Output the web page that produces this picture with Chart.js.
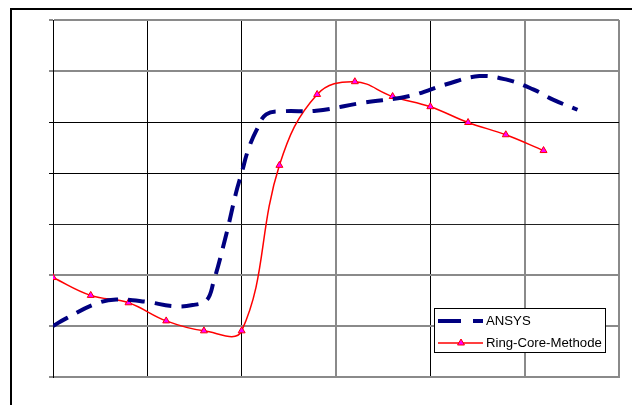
<!DOCTYPE html>
<html><head><meta charset="utf-8">
<script src="https://cdn.jsdelivr.net/npm/chart.js@4"></script>
<style>html,body{margin:0;padding:0;background:#fff}canvas{display:block}</style>
</head><body>
<canvas id="c" width="632" height="405"></canvas>
<script>
// Series names
const seriesNames = ['ANSYS', 'Ring-Core-Methode'];
// ANSYS (dashed, smooth)
const ansysX = [0, 0.14, 0.46, 0.67, 0.99, 1.27, 1.48, 1.63, 1.70, 1.84, 1.94, 2.0, 2.07, 2.16, 2.26, 2.44, 2.79, 3.29, 3.78, 4.17, 4.52, 4.81, 5.09, 5.30, 5.56];
const ansysY = [1.0, 1.15, 1.44, 1.52, 1.475, 1.39, 1.41, 1.51, 1.85, 2.82, 3.61, 4.0, 4.46, 4.85, 5.15, 5.21, 5.22, 5.38, 5.51, 5.74, 5.90, 5.83, 5.64, 5.44, 5.24];
// Ring-Core-Methode (solid, triangle markers)
const rcmX = [0, 0.4, 0.8, 1.2, 1.6, 2.0, 2.4, 2.8, 3.2, 3.6, 4.0, 4.4, 4.8, 5.2];
const rcmY = [1.95, 1.60, 1.455, 1.10, 0.905, 0.905, 4.15, 5.54, 5.79, 5.50, 5.30, 4.99, 4.75, 4.44];
// Axis ranges (no tick labels shown in the reference)
const xRange = [0, 6];
const yRange = [0, 7];

const toPts = (xs, ys) => xs.map((x, i) => ({x, y: ys[i]}));

const xGridColors = ['#000', '#000', '#000', '#8a8a8a', '#000', '#8a8a8a', '#8a8a8a'];
const xGridWidths = [1, 1, 1, 2, 1, 2, 2];
const yGridColors = ['#8a8a8a', '#8a8a8a', '#8a8a8a', '#222', '#000', '#000', '#8a8a8a', '#8a8a8a'];
const yGridWidths = [2, 2, 2, 1, 1, 1, 2, 2];

const bgPlugin = {
  id: 'bg',
  beforeDraw(chart) {
    const ctx = chart.ctx;
    ctx.save();
    ctx.fillStyle = '#fff';
    ctx.fillRect(0, 0, chart.width, chart.height);
    ctx.restore();
  },
  afterDraw(chart) {
    const ctx = chart.ctx;
    ctx.save();
    ctx.strokeStyle = '#000';
    ctx.lineWidth = 2;
    ctx.strokeRect(11, 9, 1000, 1000);
    ctx.restore();
  }
};

const legendPlugin = {
  id: 'boxLegend',
  afterDraw(chart) {
    const ctx = chart.ctx;
    const ds = chart.data.datasets;
    ctx.save();
    ctx.fillStyle = '#fff';
    ctx.fillRect(434.5, 308.5, 171, 44);
    ctx.strokeStyle = '#000';
    ctx.lineWidth = 1;
    ctx.strokeRect(434.5, 308.5, 171, 44);
    ctx.font = '13.2px "Liberation Sans", Arial, sans-serif';
    ctx.textBaseline = 'middle';
    ctx.fillStyle = '#000';
    const rows = [321, 343];
    ds.forEach((d, i) => {
      const y = rows[i];
      ctx.save();
      ctx.strokeStyle = d.borderColor;
      ctx.lineWidth = d.borderWidth;
      ctx.setLineDash(d.borderDash ? [23, 12] : []);
      ctx.beginPath();
      ctx.moveTo(438, y);
      ctx.lineTo(483, y);
      ctx.stroke();
      ctx.restore();
      if (d.pointRadius > 0) {
        ctx.save();
        ctx.fillStyle = d.pointBackgroundColor;
        ctx.strokeStyle = d.pointBorderColor;
        ctx.lineWidth = d.pointBorderWidth;
        ctx.beginPath();
        const r = d.pointRadius;
        for (let k = 0; k < 3; k++) {
          const a = k * 2 * Math.PI / 3;
          const px = 461 + Math.sin(a) * r, py = y - Math.cos(a) * r;
          k ? ctx.lineTo(px, py) : ctx.moveTo(px, py);
        }
        ctx.closePath();
        ctx.fill();
        ctx.stroke();
        ctx.restore();
      }
      ctx.fillStyle = '#000';
      ctx.fillText(d.label, 486, y + 0.5);
    });
    ctx.restore();
  }
};

new Chart(document.getElementById('c'), {
  type: 'line',
  data: {
    datasets: [
      {
        label: seriesNames[0],
        data: toPts(ansysX, ansysY),
        borderColor: '#000080',
        borderWidth: 4,
        borderDash: [17, 10],
        pointRadius: 0,
        tension: 0.4,
        fill: false
      },
      {
        label: seriesNames[1],
        data: toPts(rcmX, rcmY),
        borderColor: '#ff0000',
        borderWidth: 1.5,
        pointStyle: 'triangle',
        pointRadius: 4,
        pointBackgroundColor: '#ff00ff',
        pointBorderColor: '#ff0000',
        pointBorderWidth: 1,
        tension: 0.4,
        fill: false
      }
    ]
  },
  options: {
    responsive: false,
    animation: false,
    devicePixelRatio: 1,
    layout: { padding: { left: 49, right: 13, top: 20, bottom: 28 } },
    plugins: { legend: { display: false }, tooltip: { enabled: false } },
    scales: {
      x: {
        type: 'linear', min: xRange[0], max: xRange[1],
        ticks: { display: false, stepSize: 1 },
        grid: {
          drawTicks: false,
          color: c => xGridColors[c.index] || '#000',
          lineWidth: c => xGridWidths[c.index] || 1
        },
        border: { display: true, color: '#8a8a8a', width: 2 },
        afterFit: s => { s.height = 0; }
      },
      y: {
        type: 'linear', min: yRange[0], max: yRange[1],
        ticks: { display: false, stepSize: 1 },
        grid: {
          drawTicks: true, tickLength: 4,
          color: c => yGridColors[c.index] || '#000',
          lineWidth: c => yGridWidths[c.index] || 1
        },
        border: { display: true, color: '#000', width: 1 },
        afterFit: s => { s.width = 4; }
      }
    }
  },
  plugins: [bgPlugin, legendPlugin]
});
</script>
</body></html>
